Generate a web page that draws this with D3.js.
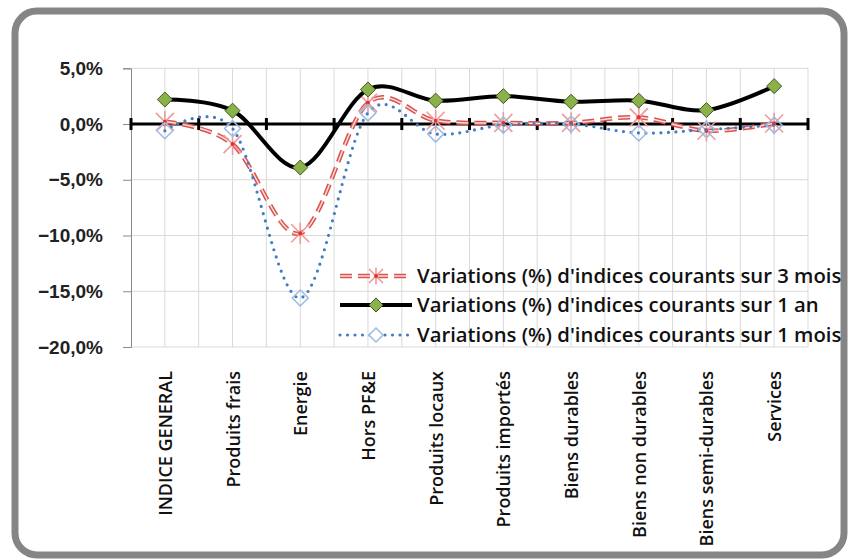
<!DOCTYPE html>
<html>
<head>
<meta charset="utf-8">
<script src="https://cdn.jsdelivr.net/npm/d3@7"></script>
<style>
  body { margin: 0; background: #fff; }
  svg { display: block; font-family: Lato, "Open Sans", sans-serif; }
</style>
</head>
<body>
<svg id="chart" width="851" height="560"></svg>
<script>
const categories = ["INDICE GENERAL", "Produits frais", "Energie", "Hors PF&E", "Produits locaux",
    "Produits importés", "Biens durables", "Biens non durables", "Biens semi-durables", "Services"];
const var3mois = [0.2, -1.8, -9.8, 1.9, 0.3, 0.1, 0.1, 0.6, -0.6, 0.05];
const var1an = [2.2, 1.2, -3.9, 3.1, 2.1, 2.5, 2.0, 2.1, 1.25, 3.4];
const var1mois = [-0.6, -0.4, -15.6, 1.0, -0.9, -0.1, 0.0, -0.8, -0.5, -0.1];
const yTicks = [5, 0, -5, -10, -15, -20];
const seriesNames = ["Variations (%) d'indices courants sur 3 mois",
    "Variations (%) d'indices courants sur 1 an",
    "Variations (%) d'indices courants sur 1 mois"];

const svg = d3.select("#chart");

// cadre arrondi
svg.append("rect")
    .attr("x", 15).attr("y", 11)
    .attr("width", 829).attr("height", 544)
    .attr("rx", 22)
    .attr("fill", "#fff")
    .attr("stroke", "#858585")
    .attr("stroke-width", 7);

const x = d3.scaleBand().domain(categories).range([131, 808]);
const y = d3.scaleLinear().domain([-20, 5]).range([347, 68.3]);
const cx = c => x(c) + x.bandwidth() / 2;

// grille
const grid = svg.append("g").attr("stroke", "#d9d9d9").attr("stroke-width", 1);
categories.forEach(c => {
    grid.append("line").attr("x1", cx(c)).attr("x2", cx(c)).attr("y1", y(5)).attr("y2", y(-20));
    grid.append("line").attr("x1", x(c) + x.bandwidth()).attr("x2", x(c) + x.bandwidth())
        .attr("y1", y(5)).attr("y2", y(-20));
});
yTicks.filter(t => t !== 0).forEach(t => {
    grid.append("line").attr("x1", 131).attr("x2", 808).attr("y1", y(t)).attr("y2", y(t));
});

// axe Y
const yAxis = svg.append("g").attr("transform", "translate(131,0)")
    .call(d3.axisLeft(y).tickValues(yTicks).tickSize(8).tickPadding(20)
        .tickFormat(d => d3.format(".1f")(d).replace(".", ",") + "%"));
yAxis.select(".domain").attr("stroke", "#888");
yAxis.selectAll(".tick line").attr("stroke", "#888");
yAxis.selectAll("text").attr("font-size", 19).attr("font-weight", "bold").attr("fill", "#222");

// axe zéro
svg.append("line").attr("x1", 131).attr("x2", 808).attr("y1", y(0)).attr("y2", y(0))
    .attr("stroke", "#000").attr("stroke-width", 3);
const bounds = [131].concat(categories.map(c => x(c) + x.bandwidth()));
svg.append("g").selectAll("line").data(bounds).join("line")
    .attr("x1", d => d).attr("x2", d => d)
    .attr("y1", y(0) - 6).attr("y2", y(0) + 6)
    .attr("stroke", "#000").attr("stroke-width", 3);

// étiquettes catégories
svg.append("g").selectAll("text").data(categories).join("text")
    .attr("transform", d => `translate(${cx(d) + 7},371) rotate(-90)`)
    .attr("text-anchor", "end")
    .attr("font-family", "'Open Sans', sans-serif")
    .attr("font-size", 18)
    .attr("font-weight", 600)
    .attr("fill", "#111")
    .text(d => d);

const line = d3.line()
    .x((d, i) => cx(categories[i]))
    .y(d => y(d))
    .curve(d3.curveCardinal.tension(0));

// symboles
function star(g, px, py, r) {
    const s = g.append("g").attr("transform", `translate(${px},${py})`);
    [[-r, -r, r, r], [-r, r, r, -r], [0, -r * 1.2, 0, r * 1.2]].forEach(l => {
        s.append("line").attr("x1", l[0]).attr("y1", l[1]).attr("x2", l[2]).attr("y2", l[3])
            .attr("stroke", "#ef9a9a").attr("stroke-width", 1.6);
    });
    s.append("circle").attr("r", 2).attr("fill", "#d33");
}
function diamond(g, px, py, r, fill, stroke, sw) {
    g.append("path")
        .attr("d", `M${px},${py - r}L${px + r},${py}L${px},${py + r}L${px - r},${py}Z`)
        .attr("fill", fill).attr("stroke", stroke).attr("stroke-width", sw);
}
function drawRed(g, d) {
    g.append("path").attr("d", d).attr("fill", "none").attr("stroke", "#d9534f")
        .attr("stroke-width", 4.5).attr("stroke-dasharray", "12,6");
    g.append("path").attr("d", d).attr("fill", "none").attr("stroke", "#f9dede")
        .attr("stroke-width", 1.5).attr("stroke-dasharray", "12,6");
}
function drawBlack(g, d) {
    g.append("path").attr("d", d).attr("fill", "none").attr("stroke", "#000")
        .attr("stroke-width", 4);
}
function drawBlue(g, d) {
    g.append("path").attr("d", d).attr("fill", "none").attr("stroke", "#3f7cc4")
        .attr("stroke-width", 3.2).attr("stroke-linecap", "round").attr("stroke-dasharray", "0,7.5");
}

const plot = svg.append("g");
// 3 mois
const g3 = plot.append("g");
drawRed(g3, line(var3mois));
var3mois.forEach((v, i) => star(g3, cx(categories[i]), y(v), 9));
// 1 an
const g1 = plot.append("g");
drawBlack(g1, line(var1an));
var1an.forEach((v, i) => diamond(g1, cx(categories[i]), y(v), 7.5, "#8db14a", "#3d5a1c", 1));
// 1 mois
const gm = plot.append("g");
drawBlue(gm, line(var1mois));
var1mois.forEach((v, i) => diamond(gm, cx(categories[i]), y(v), 8, "none", "#9dbbe0", 1.5));

// légende
const legend = svg.append("g");
const rows = [276, 305, 335];
rows.forEach((ry, i) => {
    const seg = `M340,${ry}L412,${ry}`;
    if (i === 0) { drawRed(legend, seg); star(legend, 376, ry, 7); }
    if (i === 1) { drawBlack(legend, seg); diamond(legend, 376, ry, 7, "#8db14a", "#3d5a1c", 1); }
    if (i === 2) { drawBlue(legend, seg); diamond(legend, 376, ry, 7, "#fff", "#9dbbe0", 1.5); }
    legend.append("text")
        .attr("x", 417).attr("y", ry)
        .attr("dy", "0.35em")
        .attr("font-family", "'Open Sans', sans-serif")
        .attr("font-size", 20.3)
        .attr("font-weight", 600)
        .attr("fill", "#111")
        .text(seriesNames[i]);
});
</script>
</body>
</html>
